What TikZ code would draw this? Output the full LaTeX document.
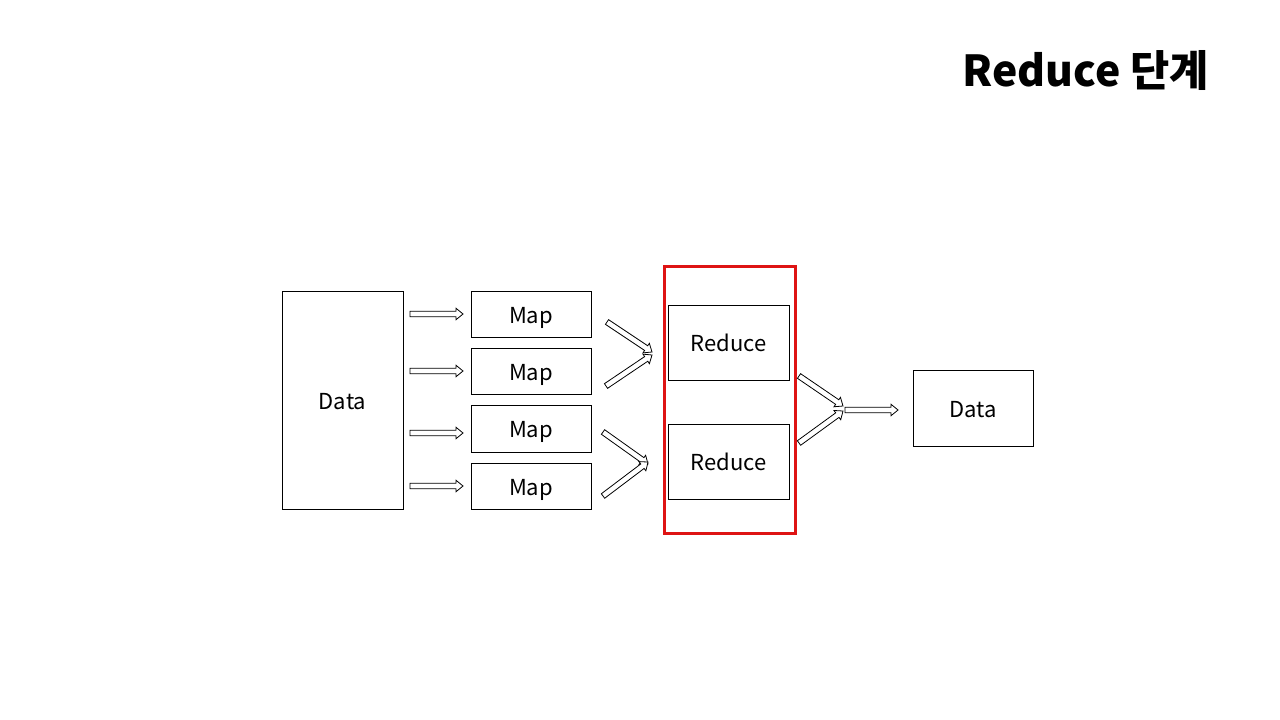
\documentclass[tikz,border=0pt]{standalone}
\usepackage{fontspec}
\setmainfont{Noto Sans CJK KR}
\usetikzlibrary{calc}
\definecolor{boxred}{RGB}{222,20,20}
\tikzset{
  box/.style={draw=black, line width=0.75pt, inner sep=0pt, text height=13.8pt, text depth=0pt, font=\fontsize{16.5}{19}\selectfont},
  blk/.style={draw=black, line width=0.6pt, fill=white, line join=miter},
}
\newcommand{\barrow}[2]{%
  \draw[blk] let \p1=(#1), \p2=(#2), \n1={atan2(\y2-\y1,\x2-\x1)},
    \p3=($(\p2)+(\n1+180:5.25pt)$) in
    ($(\p1)+(\n1+90:2.1pt)$) -- ($(\p3)+(\n1+90:2.1pt)$) -- ($(\p3)+(\n1+90:4.3pt)$)
    -- (\p2) -- ($(\p3)+(\n1-90:4.3pt)$) -- ($(\p3)+(\n1-90:2.1pt)$)
    -- ($(\p1)+(\n1-90:2.1pt)$) -- cycle;}
\begin{document}
\begin{tikzpicture}[x=0.75pt,y=-0.75pt]
\useasboundingbox (0,0) rectangle (1280,720);
\node[anchor=base east, inner sep=0pt, font=\fontsize{32}{36}\selectfont\bfseries] (title) at (1209,87) {Reduce 단계};

\node[box, minimum width=90.75pt, minimum height=163.5pt] (data) at (342.5,400) {Data};
\node[box, minimum width=90pt, minimum height=34.5pt] (m1) at (531,314) {Map};
\node[box, minimum width=90pt, minimum height=34.5pt] (m2) at (531,371) {Map};
\node[box, minimum width=90pt, minimum height=35.25pt] (m3) at (531,428.5) {Map};
\node[box, minimum width=90pt, minimum height=34.5pt] (m4) at (531,486) {Map};
\node[box, minimum width=90.75pt, minimum height=56.25pt] (r1) at (728.5,342.5) {Reduce};
\node[box, minimum width=90.75pt, minimum height=56.25pt] (r2) at (728.5,461.5) {Reduce};
\node[box, minimum width=90pt, minimum height=57pt] (out) at (973,408) {Data};
\draw[boxred, line width=2.25pt] (664,266) rectangle (795,533);

\coordinate (a1s) at (410,314); \coordinate (a1e) at (463,314);
\coordinate (a2s) at (410,371); \coordinate (a2e) at (463,371);
\coordinate (a3s) at (410,433); \coordinate (a3e) at (463,433);
\coordinate (a4s) at (410,486); \coordinate (a4e) at (463,486);
\coordinate (b1s) at (607,322); \coordinate (b1e) at (652,352);
\coordinate (b2s) at (606,386); \coordinate (b2e) at (652,355);
\coordinate (b3s) at (603,432); \coordinate (b3e) at (648,464);
\coordinate (b4s) at (603,496); \coordinate (b4e) at (648,462);
\coordinate (c1s) at (799,376); \coordinate (c1e) at (843,406);
\coordinate (c2s) at (799,443); \coordinate (c2e) at (843,411);
\coordinate (ds) at (845,410); \coordinate (de) at (898,410);
\barrow{a1s}{a1e}\barrow{a2s}{a2e}\barrow{a3s}{a3e}\barrow{a4s}{a4e}
\barrow{b1s}{b1e}\barrow{b2s}{b2e}\barrow{b3s}{b3e}\barrow{b4s}{b4e}
\barrow{c1s}{c1e}\barrow{c2s}{c2e}\barrow{ds}{de}
\end{tikzpicture}
\end{document}
